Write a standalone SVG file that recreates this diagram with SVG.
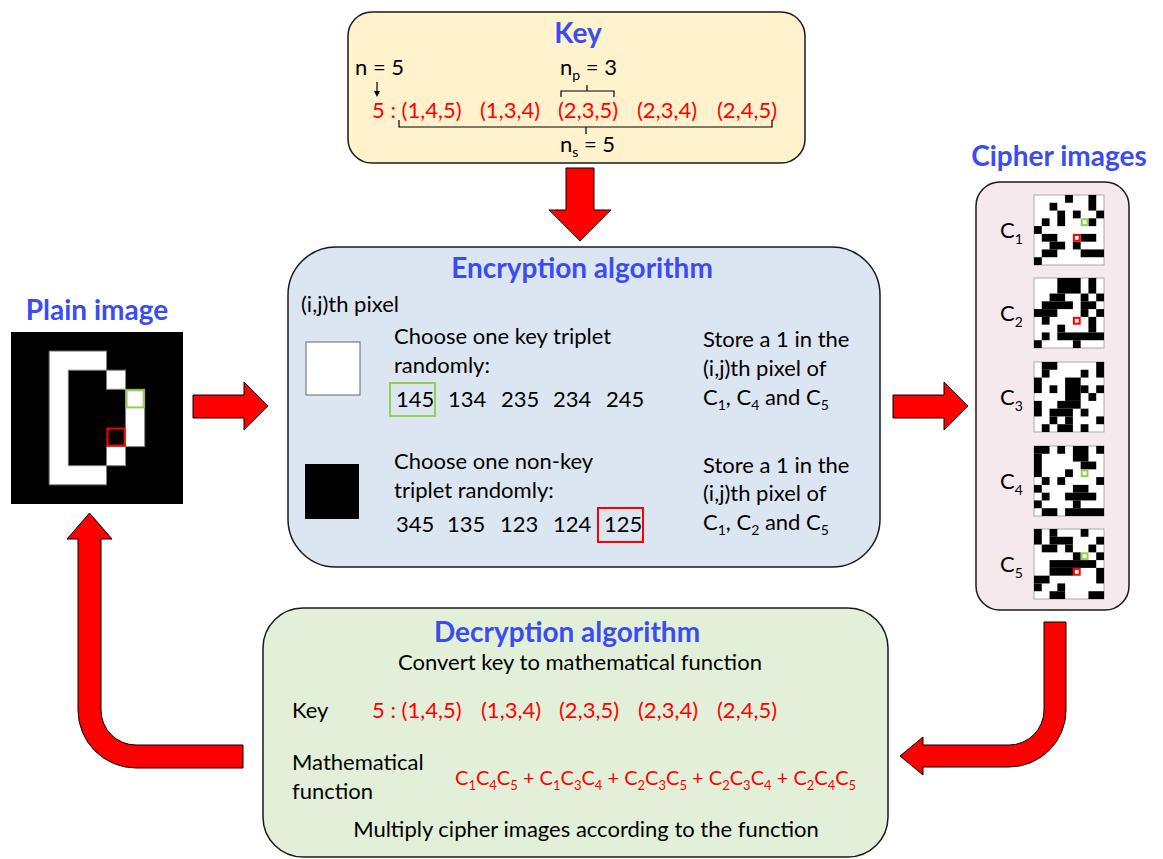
<svg xmlns="http://www.w3.org/2000/svg" width="1163" height="859" viewBox="0 0 1163 859">
<defs>
<style>
text{font-family:Lato,"Open Sans","Liberation Sans",sans-serif;}
.t{font-size:22px;fill:#000}
.r{font-size:22px;fill:#ff0000}
.f{font-size:20px;fill:#ff0000}
.h{font-size:28px;font-weight:bold;fill:#3a4cf2}
.box{stroke:#1a1a1a;stroke-width:1.5}
.arrow{fill:#ff0000;stroke:#000;stroke-width:1}
.bk{fill:#000}
.s{font-size:14px}
.fs{font-size:13px}
.thin{fill:none;stroke:#000;stroke-width:1.2}
.hg{fill:#fff;stroke:#92d050;stroke-width:2}
.hr{fill:#fff;stroke:#ff0000;stroke-width:2}
.ci{fill:#fff;stroke:#aaa;stroke-width:1}
</style>
</defs>
<rect width="1163" height="859" fill="#fff"/>

<g id="key">
<rect class="box" x="348" y="12" width="457" height="151" rx="24" fill="#fff2cc"/>
<text class="h" x="578" y="43" text-anchor="middle">Key</text>
<text class="t" x="355" y="75" font-size="21">n = 5</text>
<line x1="377" y1="82" x2="377" y2="93" stroke="#000" stroke-width="1.2"/>
<path d="M374,91 L377,97 L380,91 Z" fill="#000"/>
<text class="t" x="560" y="75" font-size="21">n<tspan class="s" dy="5">p</tspan><tspan dy="-5"> = 3</tspan></text>
<path class="thin" d="M561,97 L561,91 L614,91 L614,97 M587,91 L587,85"/>
<text class="r" x="372" y="118">5 : (1,4,5)</text>
<text class="r" x="480" y="118">(1,3,4)</text>
<text class="r" x="558" y="118">(2,3,5)</text>
<text class="r" x="637" y="118">(2,3,4)</text>
<text class="r" x="717" y="118">(2,4,5)</text>
<path class="thin" d="M399,120 L399,127 L772,127 L772,120 M586,127 L586,134"/>
<text class="t" x="560" y="152" font-size="21">n<tspan class="s" dy="5">s</tspan><tspan dy="-5"> = 5</tspan></text>
</g>

<g id="plain-image">
<text class="h" x="97" y="320" text-anchor="middle">Plain image</text>
<rect x="11" y="332" width="172" height="172" fill="#000"/>
<path d="M49.2,351.1 L106.5,351.1 L106.5,370.2 L68.3,370.2 L68.3,465.7 L106.5,465.7 L106.5,484.8 L49.2,484.8 Z" fill="#fff" stroke="#7f7f7f" stroke-width="1"/>
<rect x="106.5" y="370.2" width="19.1" height="19.1" fill="#fff" stroke="#7f7f7f" stroke-width="1"/>
<rect x="125.6" y="389.3" width="19.1" height="57.3" fill="#fff" stroke="#7f7f7f" stroke-width="1"/>
<rect x="106.5" y="446.6" width="19.1" height="19.1" fill="#fff" stroke="#7f7f7f" stroke-width="1"/>
<rect x="126.6" y="390.3" width="17.1" height="17.1" fill="none" stroke="#92d050" stroke-width="2"/>
<rect x="107.5" y="428.5" width="17.1" height="17.1" fill="none" stroke="#ff0000" stroke-width="2"/>
</g>

<g id="encryption">
<rect class="box" x="288" y="247" width="592" height="320" rx="48" fill="#dce6f2"/>
<text class="h" x="582" y="278" text-anchor="middle">Encryption algorithm</text>
<text class="t" x="301" y="312">(i,j)th pixel</text>
<rect x="306" y="342" width="54" height="53" fill="#fff" stroke="#666" stroke-width="1"/>
<text class="t" x="394" y="344">Choose one key triplet</text>
<text class="t" x="394" y="373">randomly:</text>
<rect x="390" y="383" width="45" height="33" fill="none" stroke="#92d050" stroke-width="2"/>
<text class="t" x="396" y="407">145</text>
<text class="t" x="448" y="407">134</text>
<text class="t" x="501" y="407">235</text>
<text class="t" x="553" y="407">234</text>
<text class="t" x="606" y="407">245</text>
<rect x="305" y="464" width="54" height="55" fill="#000"/>
<text class="t" x="394" y="469">Choose one non-key</text>
<text class="t" x="394" y="498">triplet randomly:</text>
<rect x="598" y="508" width="45" height="34" fill="none" stroke="#ff0000" stroke-width="2"/>
<text class="t" x="396" y="532">345</text>
<text class="t" x="447" y="532">135</text>
<text class="t" x="500" y="532">123</text>
<text class="t" x="553" y="532">124</text>
<text class="t" x="604" y="532">125</text>
<text class="t" x="703" y="347">Store a 1 in the</text>
<text class="t" x="703" y="376">(i,j)th pixel of</text>
<text class="t" x="703" y="405">C<tspan class="s" dy="5">1</tspan><tspan dy="-5">, C</tspan><tspan class="s" dy="5">4</tspan><tspan dy="-5"> and C</tspan><tspan class="s" dy="5">5</tspan></text>
<text class="t" x="703" y="473">Store a 1 in the</text>
<text class="t" x="703" y="501">(i,j)th pixel of</text>
<text class="t" x="703" y="530">C<tspan class="s" dy="5">1</tspan><tspan dy="-5">, C</tspan><tspan class="s" dy="5">2</tspan><tspan dy="-5"> and C</tspan><tspan class="s" dy="5">5</tspan></text>
</g>

<g id="cipher-images">
<text class="h" x="1059" y="166" text-anchor="middle">Cipher images</text>
<rect class="box" x="976" y="182" width="153" height="428" rx="24" fill="#f6e9ee"/>
<text class="t" x="1000" y="238" font-size="23">C<tspan class="s" dy="6">1</tspan></text>
<text class="t" x="1000" y="321" font-size="23">C<tspan class="s" dy="6">2</tspan></text>
<text class="t" x="1000" y="405" font-size="23">C<tspan class="s" dy="6">3</tspan></text>
<text class="t" x="1000" y="489" font-size="23">C<tspan class="s" dy="6">4</tspan></text>
<text class="t" x="1000" y="572" font-size="23">C<tspan class="s" dy="6">5</tspan></text>
<rect class="ci" x="1034" y="195" width="70" height="70"/>
<rect class="ci" x="1034" y="278" width="70" height="70"/>
<rect class="ci" x="1034" y="362" width="70" height="70"/>
<rect class="ci" x="1034" y="446" width="70" height="70"/>
<rect class="ci" x="1034" y="529" width="70" height="70"/>
<g class="bk" transform="translate(1034,195) scale(7.778)">
<rect x="4" y="0" width="1" height="1"/><rect x="7" y="0" width="1" height="2"/>
<rect x="2" y="1" width="1" height="1"/>
<rect x="3" y="2" width="1" height="2"/><rect x="5" y="2" width="1" height="1"/><rect x="8" y="2" width="1" height="1"/>
<rect x="1" y="3" width="1" height="1"/><rect x="7" y="3" width="1" height="1"/>
<rect x="0" y="4" width="1" height="1"/>
<rect x="1" y="5" width="2" height="1"/><rect x="6" y="5" width="2" height="1"/>
<rect x="2" y="6" width="2" height="1"/><rect x="5" y="6" width="1" height="1"/>
<rect x="1" y="7" width="2" height="1"/><rect x="6" y="7" width="3" height="1"/>
<rect x="0" y="8" width="1" height="1"/>
</g>
<g class="bk" transform="translate(1034,278) scale(7.778)">
<rect x="3" y="0" width="3" height="2"/><rect x="7" y="0" width="1" height="2"/>
<rect x="2" y="2" width="2" height="1"/><rect x="6" y="2" width="1" height="1"/><rect x="8" y="2" width="1" height="1"/>
<rect x="1" y="3" width="4" height="1"/><rect x="6" y="3" width="2" height="1"/>
<rect x="0" y="4" width="3" height="1"/><rect x="6" y="4" width="1" height="1"/><rect x="8" y="4" width="1" height="1"/>
<rect x="1" y="5" width="1" height="1"/><rect x="7" y="5" width="1" height="2"/>
<rect x="3" y="6" width="1" height="1"/>
<rect x="1" y="7" width="1" height="1"/><rect x="3" y="7" width="6" height="1"/>
<rect x="0" y="8" width="1" height="1"/><rect x="5" y="8" width="1" height="1"/>
</g>
<g class="bk" transform="translate(1034,362) scale(7.778)">
<rect x="1" y="0" width="2" height="1"/><rect x="8" y="0" width="1" height="2"/>
<rect x="1" y="1" width="1" height="1"/><rect x="6" y="1" width="1" height="1"/>
<rect x="0" y="2" width="1" height="2"/><rect x="4" y="2" width="2" height="3"/>
<rect x="2" y="3" width="1" height="1"/><rect x="6" y="3" width="1" height="1"/><rect x="8" y="3" width="1" height="1"/>
<rect x="7" y="4" width="1" height="1"/>
<rect x="0" y="5" width="1" height="2"/><rect x="3" y="5" width="3" height="1"/>
<rect x="2" y="6" width="3" height="1"/><rect x="6" y="6" width="1" height="1"/>
<rect x="2" y="7" width="1" height="1"/><rect x="4" y="7" width="1" height="1"/><rect x="8" y="7" width="1" height="1"/>
<rect x="1" y="8" width="1" height="1"/><rect x="3" y="8" width="2" height="1"/><rect x="6" y="8" width="1" height="1"/>
</g>
<g class="bk" transform="translate(1034,446) scale(7.778)">
<rect x="0" y="0" width="2" height="1"/><rect x="3" y="0" width="1" height="1"/><rect x="5" y="0" width="2" height="2"/><rect x="8" y="0" width="1" height="1"/>
<rect x="0" y="1" width="1" height="3"/>
<rect x="6" y="2" width="2" height="1"/>
<rect x="4" y="3" width="1" height="1"/>
<rect x="1" y="4" width="1" height="1"/><rect x="3" y="4" width="1" height="1"/><rect x="8" y="4" width="1" height="1"/>
<rect x="0" y="5" width="1" height="1"/><rect x="5" y="5" width="2" height="1"/>
<rect x="1" y="6" width="1" height="1"/><rect x="4" y="6" width="4" height="1"/>
<rect x="0" y="7" width="1" height="1"/><rect x="5" y="7" width="1" height="1"/>
<rect x="1" y="8" width="2" height="1"/><rect x="4" y="8" width="5" height="1"/>
</g>
<g class="bk" transform="translate(1034,529) scale(7.778)">
<rect x="0" y="0" width="1" height="2"/><rect x="2" y="0" width="1" height="1"/><rect x="6" y="0" width="1" height="1"/>
<rect x="2" y="1" width="3" height="1"/><rect x="8" y="1" width="1" height="1"/>
<rect x="1" y="2" width="2" height="1"/><rect x="4" y="2" width="1" height="1"/><rect x="7" y="2" width="1" height="1"/>
<rect x="5" y="3" width="1" height="1"/><rect x="8" y="3" width="1" height="1"/>
<rect x="2" y="4" width="6" height="1"/>
<rect x="2" y="5" width="3" height="1"/><rect x="8" y="5" width="1" height="2"/>
<rect x="0" y="6" width="2" height="1"/>
<rect x="0" y="7" width="1" height="1"/><rect x="3" y="7" width="1" height="1"/>
<rect x="2" y="8" width="2" height="1"/><rect x="7" y="8" width="2" height="1"/>
</g>
<rect class="hg" x="1081.7" y="219.3" width="5.8" height="5.8"/>
<rect class="hr" x="1073.9" y="234.9" width="5.8" height="5.8"/>
<rect class="hr" x="1073.9" y="317.9" width="5.8" height="5.8"/>
<rect class="hg" x="1081.7" y="470.3" width="5.8" height="5.8"/>
<rect class="hg" x="1081.7" y="553.3" width="5.8" height="5.8"/>
<rect class="hr" x="1073.9" y="568.9" width="5.8" height="5.8"/>
</g>

<g id="decryption">
<rect class="box" x="263" y="608" width="625" height="249" rx="40" fill="#e2efd9"/>
<text class="h" x="567" y="642" text-anchor="middle">Decryption algorithm</text>
<text class="t" x="580" y="670" text-anchor="middle">Convert key to mathematical function</text>
<text class="t" x="292" y="718">Key</text>
<text class="r" x="372" y="718">5 : (1,4,5)</text>
<text class="r" x="481" y="718">(1,3,4)</text>
<text class="r" x="559" y="718">(2,3,5)</text>
<text class="r" x="638" y="718">(2,3,4)</text>
<text class="r" x="717" y="718">(2,4,5)</text>
<text class="t" x="292" y="770">Mathematical</text>
<text class="t" x="292" y="799">function</text>
<text class="f" x="455" y="785">C<tspan class="fs" dy="5">1</tspan><tspan dy="-5">C</tspan><tspan class="fs" dy="5">4</tspan><tspan dy="-5">C</tspan><tspan class="fs" dy="5">5</tspan><tspan dy="-5"> + C</tspan><tspan class="fs" dy="5">1</tspan><tspan dy="-5">C</tspan><tspan class="fs" dy="5">3</tspan><tspan dy="-5">C</tspan><tspan class="fs" dy="5">4</tspan><tspan dy="-5"> + C</tspan><tspan class="fs" dy="5">2</tspan><tspan dy="-5">C</tspan><tspan class="fs" dy="5">3</tspan><tspan dy="-5">C</tspan><tspan class="fs" dy="5">5</tspan><tspan dy="-5"> + C</tspan><tspan class="fs" dy="5">2</tspan><tspan dy="-5">C</tspan><tspan class="fs" dy="5">3</tspan><tspan dy="-5">C</tspan><tspan class="fs" dy="5">4</tspan><tspan dy="-5"> + C</tspan><tspan class="fs" dy="5">2</tspan><tspan dy="-5">C</tspan><tspan class="fs" dy="5">4</tspan><tspan dy="-5">C</tspan><tspan class="fs" dy="5">5</tspan></text>
<text class="t" x="586" y="837" text-anchor="middle">Multiply cipher images according to the function</text>
</g>

<g id="connectors">
<path class="arrow" d="M566,168 L594,168 L594,210 L611,210 L580,241 L549,210 L566,210 Z"/>
<path class="arrow" d="M193,395 L244,395 L244,382 L268,406 L244,430 L244,418 L193,418 Z"/>
<path class="arrow" d="M893,395 L944,395 L944,382 L968,406 L944,430 L944,418 L893,418 Z"/>
<path class="arrow" d="M1044,622 L1066,622 L1066,710 A57,57 0 0 1 1009,767 L923,767 L923,775 L900,756 L923,737 L923,745 L1009,745 A35,35 0 0 0 1044,710 Z"/>
<path class="arrow" d="M243,745 L136,745 A35,35 0 0 1 101,710 L101,539 L112,539 L89.5,513 L67,539 L78,539 L78,710 A58,58 0 0 0 136,768 L243,768 Z"/>
</g>
</svg>
